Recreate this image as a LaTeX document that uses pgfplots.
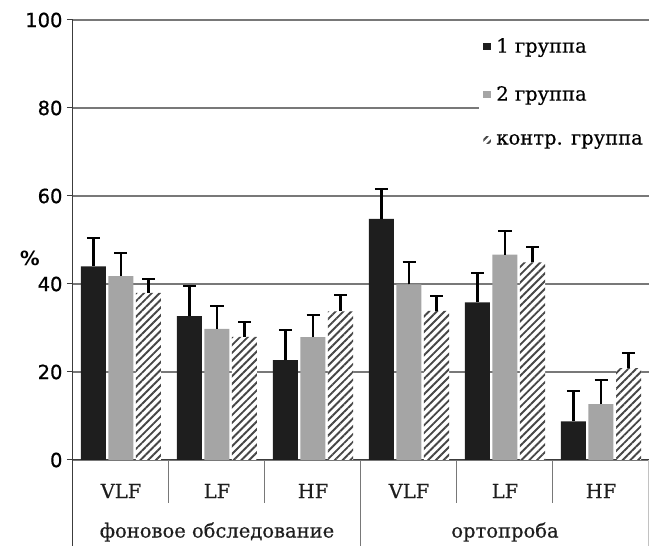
\documentclass[border=0pt]{standalone}
\usepackage{pgfplots}
\pgfplotsset{compat=1.18}
\usetikzlibrary{patterns.meta}
\usepackage{fontspec}
\setmainfont[FakeBold=0.5]{DejaVu Serif}
\newfontfamily\tickfont[FakeBold=0.7]{DejaVu Sans}
\newfontfamily\pctfont{DejaVu Sans}
\definecolor{barblack}{RGB}{30,30,30}
\definecolor{bargray}{RGB}{165,165,165}
\definecolor{hatchcol}{RGB}{70,70,70}
\definecolor{gridcol}{RGB}{120,120,120}
\definecolor{axiscol}{RGB}{60,60,60}
\newcommand{\fs}{\fontsize{19.5}{23}\selectfont}
\begin{document}
\begin{tikzpicture}[x=1pt,y=1pt]
\useasboundingbox (0,0) rectangle (651,546);
\begin{axis}[
  at={(73pt,86pt)}, anchor=south west,
  scale only axis, width=576pt, height=440pt,
  xmin=-0.5, xmax=5.5, ymin=0, ymax=100,
  ytick={0,20,40,60,80,100},
  xtick=\empty,
  axis lines*=left,
  axis line style={axiscol, line width=1pt},
  ymajorgrids, grid style={gridcol, line width=1.2pt},
  tick align=outside, major tick length=6pt,
  ytick style={axiscol, line width=1pt},
  /pgf/number format/assume math mode=true,
  yticklabel style={font=\tickfont\fontsize{19.5}{23}\selectfont, text=black, xshift=-1pt},
  clip=false,
  ybar=2.5pt, bar width=25pt,
  error bars/y dir=plus, error bars/y explicit,
  error bars/error bar style={black, solid, line width=2.2pt},
  error bars/error mark options={black, solid, line width=2pt, mark size=6.5pt, rotate=90},
  legend style={at={(axis cs:5.5,100)}, anchor=north east, yshift=-10pt,
    draw=none, fill=white, font=\fs, row sep=28pt, cells={anchor=west},
    inner xsep=4pt, inner ysep=6pt},
  legend image code/.code={\fill[#1] (0pt,-3.5pt) rectangle (7.5pt,3.5pt); \path (11pt,0pt);},
]
\addplot[fill=barblack, draw=none] coordinates {
  (0,44.0) +- (0,6.5)
  (1,32.7) +- (0,6.8)
  (2,22.7) +- (0,6.8)
  (3,54.8) +- (0,6.8)
  (4,35.8) +- (0,6.7)
  (5,8.8) +- (0,6.9)
};
\addlegendentry{1 группа}
\addplot[fill=bargray, draw=none] coordinates {
  (0,41.8) +- (0,5.2)
  (1,29.8) +- (0,5.3)
  (2,27.9) +- (0,5.1)
  (3,39.9) +- (0,5.2)
  (4,46.7) +- (0,5.4)
  (5,12.7) +- (0,5.5)
};
\addlegendentry{2 группа}
\addplot[fill=white, draw=none, postaction={pattern={Lines[angle=45,distance=5.5pt,line width=1.9pt]}, pattern color=hatchcol}] coordinates {
  (0,38.0) +- (0,3.2)
  (1,28.0) +- (0,3.4)
  (2,33.8) +- (0,3.6)
  (3,33.9) +- (0,3.4)
  (4,44.9) +- (0,3.4)
  (5,20.9) +- (0,3.5)
};
\addlegendentry{контр. группа}
% separators of the category table
\draw[axiscol, line width=1pt] (axis cs:-0.5,0) -- ++(0pt,-86pt);
\draw[gridcol!45, line width=1pt] (axis cs:5.5,0) -- ++(0pt,-86pt);
\draw[gridcol, line width=1pt] (axis cs:2.5,0) -- ++(0pt,-86pt);
\draw[gridcol, line width=1pt] (axis cs:0.5,0) -- ++(0pt,-43pt);
\draw[gridcol, line width=1pt] (axis cs:1.5,0) -- ++(0pt,-43pt);
\draw[gridcol, line width=1pt] (axis cs:3.5,0) -- ++(0pt,-43pt);
\draw[gridcol, line width=1pt] (axis cs:4.5,0) -- ++(0pt,-43pt);
\node[font=\fs, text=barblack] at (axis cs:0,0) [yshift=-31pt] {VLF};
\node[font=\fs, text=barblack] at (axis cs:1,0) [yshift=-31pt] {LF};
\node[font=\fs, text=barblack] at (axis cs:2,0) [yshift=-31pt] {HF};
\node[font=\fs, text=barblack] at (axis cs:3,0) [yshift=-31pt] {VLF};
\node[font=\fs, text=barblack] at (axis cs:4,0) [yshift=-31pt] {LF};
\node[font=\fs, text=barblack] at (axis cs:5,0) [yshift=-31pt] {HF};
\node[font=\fs, text=barblack] at (axis cs:1,0) [yshift=-72pt] {фоновое обследование};
\node[font=\fs, text=barblack] at (axis cs:4,0) [yshift=-72pt] {ортопроба};
\end{axis}
\node[font=\pctfont\bfseries\fontsize{19.5}{23}\selectfont, text=black] at (30,288) {\%};
\end{tikzpicture}
\end{document}
